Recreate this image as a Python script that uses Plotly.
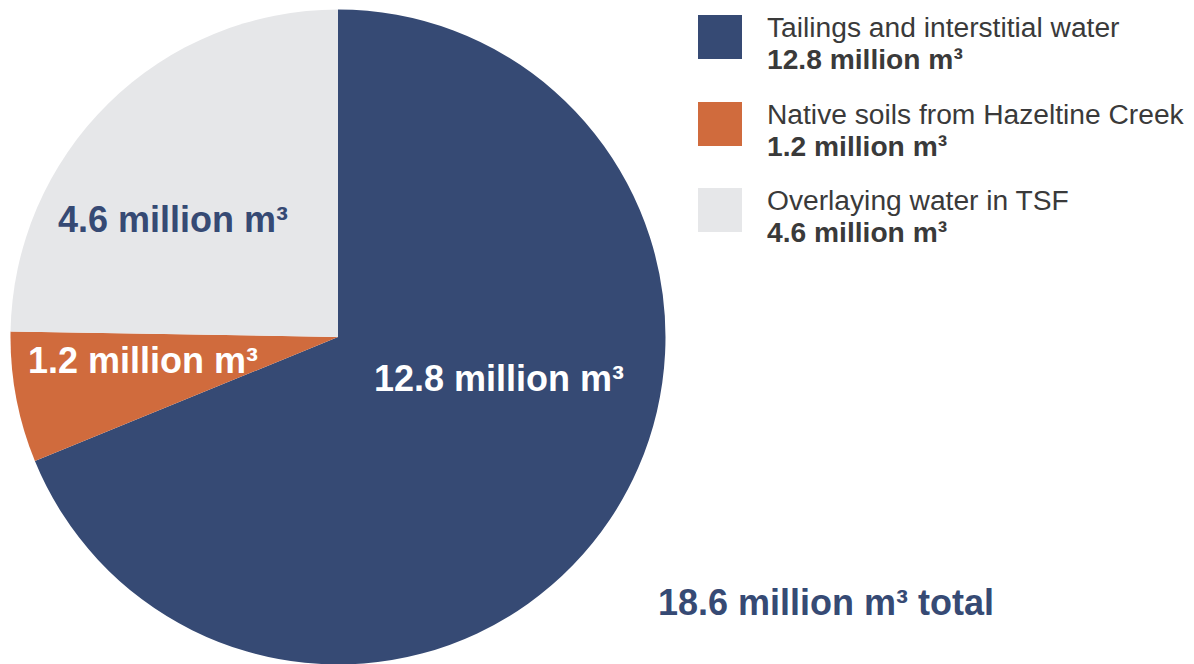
import plotly.graph_objects as go

categories = ["Tailings and interstitial water", "Native soils from Hazeltine Creek", "Overlaying water in TSF"]
values = [12.8, 1.2, 4.6]
colors = ["#364A74", "#D06B3D", "#E6E7E9"]
label_colors = ["#FFFFFF", "#FFFFFF", "#364A74"]
total = 18.6
unit = "million m³"

W, H = 1194, 664
OFF = 8  # page body margin

def px(x):
    return (x - OFF) / W

def py(y):
    return 1 - (y - OFF) / H

fig = go.Figure()
fig.add_trace(go.Pie(
    labels=categories, values=values, sort=False, direction="clockwise", rotation=0,
    marker=dict(colors=colors, line=dict(width=0)),
    textinfo="none", hoverinfo="label+value", showlegend=False,
    domain=dict(x=[px(10.5), px(665.5)], y=[py(664.5), py(9.5)]),
))

font = "Liberation Sans, Arial, Helvetica, sans-serif"

# in-slice labels (pixel centres)
label_pos = [(499, 378), (143, 361), (172.5, 220)]
for v, c, (lx, ly) in zip(values, label_colors, label_pos):
    fig.add_annotation(x=px(lx), y=py(ly), xref="paper", yref="paper", showarrow=False,
                       text=f"<b>{v} {unit}</b>", font=dict(family=font, size=36, color=c),
                       xanchor="center", yanchor="middle")

# total
fig.add_annotation(x=px(656), y=py(602), xref="paper", yref="paper", showarrow=False,
                   text=f"<b>{total} {unit} total</b>", font=dict(family=font, size=36, color="#364A74"),
                   xanchor="left", yanchor="middle")

# legend
leg_top = [15, 102, 188]
for cat, v, col, top in zip(categories, values, colors, leg_top):
    fig.add_shape(type="rect", xref="paper", yref="paper",
                  x0=px(698), x1=px(742), y0=py(top), y1=py(top + 44),
                  fillcolor=col, line=dict(width=0))
    fig.add_annotation(x=px(765), y=py(top + 12), xref="paper", yref="paper", showarrow=False,
                       text=cat, font=dict(family=font, size=28.2, color="#3A3A3A"),
                       xanchor="left", yanchor="middle")
    fig.add_annotation(x=px(765), y=py(top + 44), xref="paper", yref="paper", showarrow=False,
                       text=f"<b>{v} {unit}</b>", font=dict(family=font, size=28.2, color="#3A3A3A"),
                       xanchor="left", yanchor="middle")

fig.update_layout(width=W, height=H, margin=dict(l=0, r=0, t=0, b=0),
                  paper_bgcolor="white", plot_bgcolor="white")

fig.write_html("out.html")
